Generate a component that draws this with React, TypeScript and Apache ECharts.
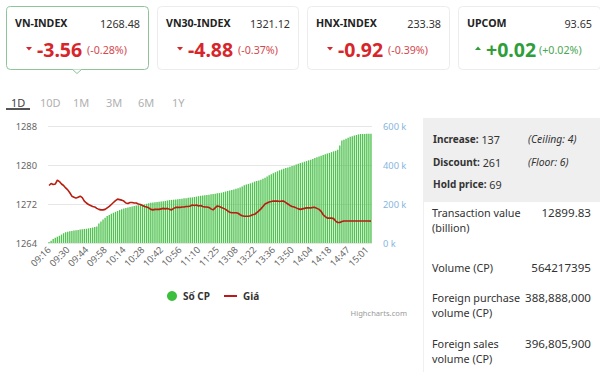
import React, { useEffect, useRef } from "react";
import * as echarts from "echarts";

const tickLabels = ["09:16","09:30","09:44","09:58","10:14","10:28","10:42","10:56","11:10","11:25","13:08","13:22","13:36","13:50","14:04","14:18","14:47","15:01"];

const volumeK = [5,12,20,27,32,37,43,50,55,58,60,62,64,65,67,69,70,72,73,75,
77,79,82,84,100,110,120,130,138,144,150,155,160,164,169,173,177,179,182,184,
187,190,192,194,195,196,198,201,204,206,208,209,210,212,213,214,216,218,220,221,
222,223,224,226,227,229,230,232,233,234,236,238,240,242,243,245,246,248,250,251,
253,255,256,258,261,264,267,269,272,275,278,281,285,290,296,300,303,306,310,315,
318,321,325,330,335,341,347,352,358,363,368,373,377,381,384,387,391,395,398,402,
406,410,413,417,420,424,427,431,436,440,444,448,451,455,459,462,466,470,473,478,
500,526,530,535,540,545,548,551,554,557,559,559,559,560,560,560];

const price = [1275.8,1276.2,1276.0,1276.1,1276.9,1276.6,1276.1,1275.8,1275.3,1274.9,
1274.3,1273.6,1273.4,1273.2,1273.4,1273.6,1273.3,1272.6,1272.2,1271.9,
1271.7,1271.5,1271.4,1271.1,1270.9,1270.8,1270.8,1270.9,1271.2,1271.5,
1271.9,1272.3,1272.7,1273.0,1272.9,1272.8,1272.6,1272.2,1272.1,1272.3,
1272.3,1272.2,1272.2,1272.0,1271.9,1271.7,1271.5,1271.4,1271.2,1270.9,
1270.8,1270.9,1270.9,1270.9,1271.0,1271.1,1271.0,1271.1,1270.9,1270.8,
1271.1,1271.3,1271.3,1271.3,1271.4,1271.4,1271.5,1271.5,1271.6,1271.8,
1271.7,1271.8,1271.6,1271.7,1271.5,1271.4,1271.4,1271.3,1271.0,1270.8,
1271.2,1271.6,1271.5,1271.3,1271.1,1270.9,1270.6,1270.3,1270.2,1270.2,
1270.2,1270.1,1269.8,1269.6,1269.5,1269.5,1269.5,1269.6,1269.8,1269.9,
1270.2,1270.6,1271.0,1271.5,1272.0,1272.2,1272.4,1272.5,1272.6,1272.6,
1272.6,1272.5,1272.6,1272.6,1272.3,1272.0,1271.7,1271.5,1271.4,1271.2,
1271.0,1270.9,1271.0,1271.1,1271.2,1271.2,1271.2,1271.3,1271.3,1271.1,
1270.9,1270.5,1269.8,1269.4,1269.1,1269.1,1269.1,1269.0,1268.5,1268.2,
1268.2,1268.4,1268.5,1268.5,1268.5,1268.5,1268.5,1268.5,1268.5,1268.5,
1268.5,1268.5,1268.5,1268.5,1268.5,1268.48];

const categories = volumeK.map((_, i) => String(i));
const LABEL_STEP = 9;

const indexNames = ["VN-INDEX", "VN30-INDEX", "HNX-INDEX", "UPCOM"];
const indexValues = ["1268.48", "1321.12", "233.38", "93.65"];
const indexChanges = ["-3.56", "-4.88", "-0.92", "+0.02"];
const indexPercents = ["(-0.28%)", "(-0.37%)", "(-0.39%)", "(+0.02%)"];
const tabs = ["1D", "10D", "1M", "3M", "6M", "1Y"];
const statLabels = ["Increase:", "Discount:", "Hold price:"];
const statValues = ["137", "261", "69"];
const statNotes = ["(Ceiling: 4)", "(Floor: 6)", ""];
const infoLabels = [["Transaction value", "(billion)"], ["Volume (CP)"], ["Foreign purchase", "volume (CP)"], ["Foreign sales", "volume (CP)"]];
const infoValues = ["12899.83", "564217395", "388,888,000", "396,805,900"];

const FONT = "'Noto Sans', 'Open Sans', sans-serif";
const RED = "#d7262b";
const GREEN = "#2f9e3a";

function txt(x: number, y: number, text: string, o: any = {}) {
  return {
    type: "text",
    x, y,
    silent: true,
    style: {
      text,
      fill: o.fill || "#333",
      fontSize: o.size || 12,
      fontWeight: o.weight || "normal",
      fontStyle: o.style || "normal",
      fontFamily: FONT,
      align: o.align || "left",
      verticalAlign: "middle",
      rich: o.rich,
    },
  };
}

export default function App() {
  const ref = useRef<HTMLDivElement>(null);
  useEffect(() => {
    const chart = echarts.init(ref.current!, null, { renderer: "svg" });
    const g: any[] = [];
    const cardX = [6, 157, 307, 458];
    const cardW = [142, 141, 142, 142];
    cardX.forEach((cx, i) => {
      const up = indexChanges[i].startsWith("+");
      const col = up ? GREEN : RED;
      g.push({
        type: "rect", silent: true,
        shape: { x: cx + 0.5, y: 6.5, width: cardW[i], height: 63, r: 4 },
        style: { fill: "#fff", stroke: i === 0 ? "#8dc49a" : "#ececec", lineWidth: 1 },
      });
      g.push(txt(cx + 9, 23, indexNames[i], { weight: "bold", size: 10.6, fill: "#222" }));
      g.push(txt(cx + cardW[i] - 8, 23, indexValues[i], { size: 10.8, fill: "#333", align: "right" }));
      const tx = up ? cx + 17 : cx + 20;
      g.push({
        type: "polygon", silent: true,
        shape: { points: up ? [[tx, 50], [tx + 6, 50], [tx + 3, 46.5]] : [[tx, 47], [tx + 6, 47], [tx + 3, 50.5]] },
        style: { fill: col },
      });
      g.push(txt(up ? cx + 28 : cx + 31, 49, indexChanges[i], { weight: "bold", size: 19.5, fill: col }));
      g.push(txt(cx + 81, 50, indexPercents[i], { size: 10.7, fill: up ? "#4aa653" : "#d4494e" }));
    });
    g.push({ type: "polygon", silent: true, shape: { points: [[72.5, 69.5], [81.5, 69.5], [77, 73.5]] }, style: { fill: "#fff" } });
    g.push({ type: "polyline", silent: true, shape: { points: [[72.5, 69.5], [77, 73.5], [81.5, 69.5]] }, style: { stroke: "#8dc49a", lineWidth: 1, fill: null } });

    const tabX = [11, 40, 73, 106, 138, 172];
    tabs.forEach((t, i) => {
      g.push(txt(tabX[i], 102, t, { size: 11, fill: i === 0 ? "#444" : "#b0b0b0" }));
    });
    g.push({ type: "rect", silent: true, shape: { x: 6, y: 108, width: 24, height: 2 }, style: { fill: "#555" } });

    g.push({ type: "circle", silent: true, shape: { cx: 172, cy: 296, r: 5 }, style: { fill: "#3cbf3c" } });
    g.push(txt(183, 296, "Số CP", { weight: "bold", size: 10, fill: "#333" }));
    g.push({ type: "line", silent: true, shape: { x1: 224, y1: 296, x2: 237, y2: 296 }, style: { stroke: "#c0171c", lineWidth: 2 } });
    g.push(txt(243, 296, "Giá", { weight: "bold", size: 10, fill: "#333" }));
    g.push(txt(407, 313, "Highcharts.com", { size: 7.6, fill: "#999", align: "right" }));

    g.push({ type: "rect", silent: true, shape: { x: 423, y: 118, width: 177, height: 84 }, style: { fill: "#efefef" } });
    g.push({ type: "line", silent: true, shape: { x1: 423.5, y1: 202, x2: 423.5, y2: 372 }, style: { stroke: "#f0f0f0", lineWidth: 1 } });
    const statY = [139, 162, 184];
    statLabels.forEach((l, i) => {
      g.push(txt(433, statY[i], `{b|${l}} ${statValues[i]}`, {
        size: 10.8, fill: "#333",
        rich: { b: { fontWeight: "bold", fontSize: 10, fontFamily: FONT, fill: "#333" } },
      }));
      if (statNotes[i]) g.push(txt(528, statY[i], statNotes[i], { size: 10.4, style: "italic", fill: "#333" }));
    });
    const infoY = [212, 267, 297, 343];
    infoLabels.forEach((lines, i) => {
      lines.forEach((l, j) => g.push(txt(432, infoY[i] + j * 15.5, l, { size: 10.8, fill: "#333" })));
      g.push(txt(591, infoY[i], infoValues[i], { size: 11.6, fill: "#333", align: "right" }));
    });

    chart.setOption({
      animation: false,
      backgroundColor: "#fff",
      textStyle: { fontFamily: FONT },
      grid: { left: 48, right: 228, top: 126, bottom: 129, containLabel: false },
      xAxis: {
        type: "category",
        data: categories,
        boundaryGap: true,
        axisLine: { show: false },
        axisTick: { show: false },
        axisLabel: {
          rotate: 45,
          interval: LABEL_STEP - 1,
          margin: 5,
          color: "#666",
          fontSize: 9.3,
          fontFamily: FONT,
          formatter: (_v: string, idx: number) => (idx % LABEL_STEP === 0 ? tickLabels[idx / LABEL_STEP] || "" : ""),
        },
      },
      yAxis: [
        {
          type: "value", min: 1264, max: 1288, interval: 8,
          axisLine: { show: false }, axisTick: { show: false },
          splitLine: { lineStyle: { color: "#e6e6e6", width: 1 } },
          axisLabel: { color: "#666", fontSize: 9.3, margin: 11, fontFamily: FONT, formatter: (v: number) => String(v) },
        },
        {
          type: "value", min: 0, max: 600, interval: 200, position: "right",
          axisLine: { show: false }, axisTick: { show: false }, splitLine: { show: false },
          axisLabel: { color: "#86b5e0", fontSize: 9.3, margin: 11, fontFamily: FONT, formatter: (v: number) => `${v} k` },
        },
      ],
      series: [
        {
          name: "Số CP", type: "bar", yAxisIndex: 1, data: volumeK,
          barCategoryGap: "35%",
          itemStyle: { color: "#4fc24f" },
          z: 1,
        },
        {
          name: "Giá", type: "line", yAxisIndex: 0, data: price,
          showSymbol: false, symbol: "none",
          lineStyle: { color: "#b81d10", width: 1.6 },
          z: 3,
        },
      ],
      graphic: g,
    });
    return () => chart.dispose();
  }, []);
  return <div ref={ref} style={{ position: "fixed", left: 0, top: 0, width: 600, height: 372 }} />;
}
